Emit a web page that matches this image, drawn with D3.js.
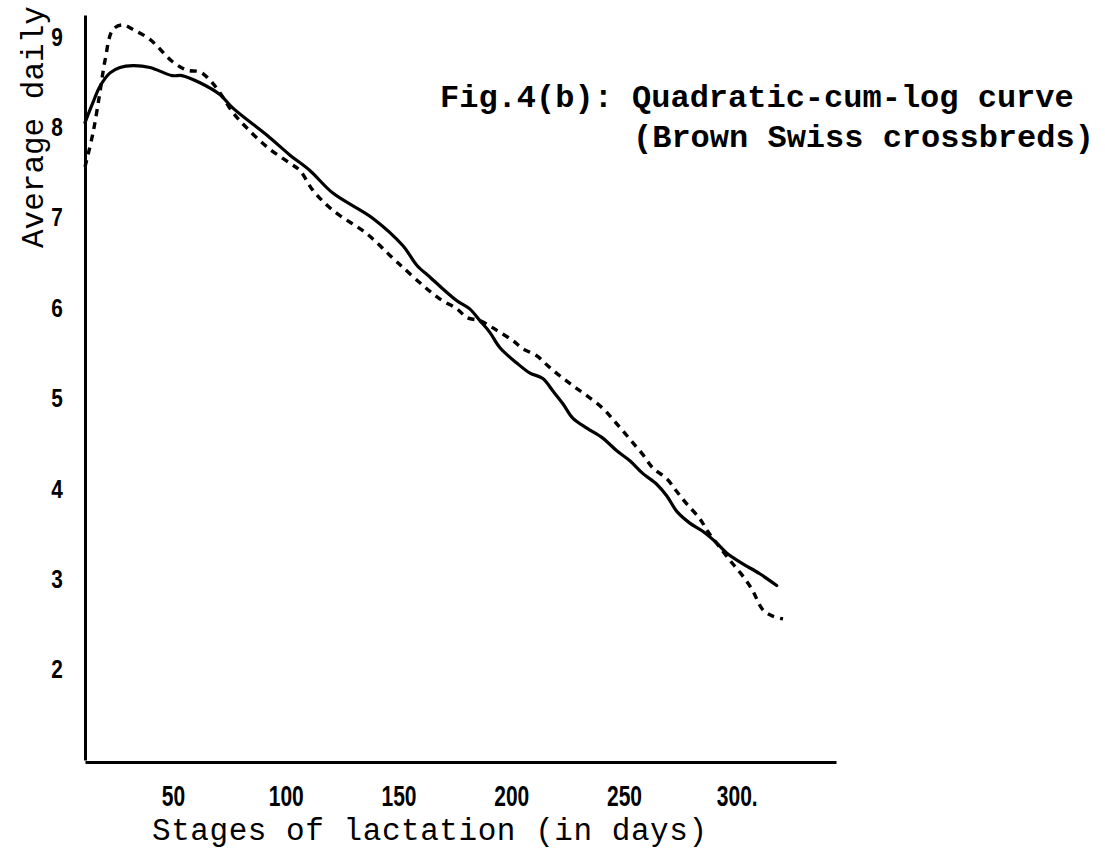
<!DOCTYPE html>
<html>
<head>
<meta charset="utf-8">
<script src="https://cdn.jsdelivr.net/npm/d3@7"></script>
<style>
  body { margin: 0; background: #fff; }
  svg { display: block; }
</style>
</head>
<body>
<div id="chart"></div>
<script>
// Values (days, kg)
const solidDays = [11, 14.5, 17.6, 22.1, 26.5, 32.3, 39.8, 49.6, 54, 62, 70.8, 76.6, 91.7, 101.9, 110.7, 120.9, 138.7, 151.9, 158.2, 164, 169.7, 175.9, 181.6, 186.1, 190.5, 195, 202.5, 208.3, 214, 218.5, 222.9, 227.3, 233.5, 240.6, 246.8, 252.6, 258.3, 264.5, 269, 273.4, 279.2, 284.9, 291.1, 295.5, 302.7, 310.2, 317.7];
const solidYield = [8.05, 8.27, 8.45, 8.6, 8.66, 8.68, 8.66, 8.57, 8.57, 8.49, 8.36, 8.21, 7.91, 7.69, 7.52, 7.27, 6.99, 6.69, 6.47, 6.34, 6.21, 6.08, 5.99, 5.86, 5.73, 5.56, 5.39, 5.28, 5.22, 5.08, 4.94, 4.78, 4.67, 4.56, 4.42, 4.31, 4.17, 4.05, 3.92, 3.75, 3.62, 3.53, 3.4, 3.29, 3.17, 3.06, 2.93];

const dashedDays = [11, 14.5, 17.6, 19.9, 23.4, 27.8, 32.3, 39.8, 50, 56.2, 62, 66.4, 70.8, 76.6, 82.8, 91.7, 101.9, 106.3, 112.1, 120.9, 136, 147.5, 151.9, 160.8, 168.3, 175.9, 180.7, 186.1, 190.5, 195, 200.7, 205.1, 211.4, 216.2, 221.5, 227.3, 233.5, 240.6, 245, 249.5, 253.9, 258.3, 262.8, 269, 273.4, 277.9, 283.6, 287.1, 293.8, 298.2, 302.2, 306.7, 311.6, 316.1, 320.5];
const dashedYield = [7.56, 7.93, 8.38, 8.74, 9.08, 9.13, 9.08, 8.97, 8.72, 8.63, 8.61, 8.52, 8.38, 8.16, 7.99, 7.78, 7.6, 7.52, 7.3, 7.08, 6.82, 6.55, 6.45, 6.25, 6.1, 5.99, 5.89, 5.86, 5.8, 5.73, 5.64, 5.55, 5.47, 5.36, 5.25, 5.14, 5.03, 4.89, 4.77, 4.64, 4.51, 4.38, 4.23, 4.11, 3.97, 3.83, 3.67, 3.53, 3.31, 3.17, 3.05, 2.89, 2.66, 2.59, 2.56];

// Tick labels
const yTicks = [2, 3, 4, 5, 6, 7, 8, 9];
const xTicks = [50, 100, 150, 200, 250, 300];
const xTickLabels = ["50", "100", "150", "200", "250", "300."];

// The svg
const svg = d3.select("#chart")
  .append("svg")
  .attr("width", 1105)
  .attr("height", 854);

// Scales (axes start where the drawing starts, not at zero)
const x = d3.scaleLinear().domain([11, 344]).range([85, 836]);
const y = d3.scaleLinear().domain([1, 9.24]).range([760, 15]);

const tickFont = "'Liberation Sans', 'DejaVu Sans', sans-serif";
const typeFont = "'Liberation Mono', 'DejaVu Sans Mono', monospace";

// Y axis
const yAxis = svg.append("g")
  .attr("transform", "translate(85,0)")
  .call(d3.axisLeft(y).tickValues(yTicks).tickSize(0).tickSizeOuter(0).tickPadding(22));

// X axis
const xAxis = svg.append("g")
  .attr("transform", "translate(0,762)")
  .call(d3.axisBottom(x).tickValues(xTicks).tickSize(0).tickSizeOuter(0).tickPadding(23)
    .tickFormat(function (d, i) { return xTickLabels[i]; }));

[yAxis, xAxis].forEach(function (g) {
  g.select(".domain").attr("stroke", "#000").attr("stroke-width", 3);
  g.selectAll("text")
    .attr("fill", "#000")
    .style("font-family", tickFont)
    .style("font-weight", "bold");
});

// narrow typewriter digits: squeeze horizontally
yAxis.selectAll("text")
  .style("font-size", "26px")
  .attr("text-anchor", "middle")
  .attr("x", -35)
  .attr("transform", "scale(0.8,1)");
xAxis.selectAll("text")
  .style("font-size", "30px")
  .attr("transform", "scale(0.7,1)");

// Curves
const line = function (days, vals) {
  return d3.line()
    .x(function (d) { return x(days[d]); })
    .y(function (d) { return y(vals[d]); })
    .curve(d3.curveCatmullRom.alpha(0.5))(d3.range(days.length));
};

svg.append("path")
  .attr("d", line(solidDays, solidYield))
  .attr("fill", "none")
  .attr("stroke", "#000")
  .attr("stroke-width", 3.2)
  .attr("stroke-linecap", "round");

svg.append("path")
  .attr("d", line(dashedDays, dashedYield))
  .attr("fill", "none")
  .attr("stroke", "#000")
  .attr("stroke-width", 3.4)
  .attr("stroke-dasharray", "7,6");

// Axis titles
svg.append("text")
  .attr("x", 152)
  .attr("y", 840)
  .style("font-family", typeFont)
  .style("font-size", "31px")
  .attr("textLength", 555)
  .text("Stages of lactation (in days)");

svg.append("text")
  .attr("transform", "translate(43,248) rotate(-90)")
  .style("font-family", typeFont)
  .style("font-size", "31px")
  .text("Average daily");

// Figure caption
svg.append("text")
  .attr("x", 440)
  .attr("y", 107)
  .style("font-family", typeFont)
  .style("font-size", "32px")
  .style("font-weight", "bold")
  .text("Fig.4(b): Quadratic-cum-log curve");

svg.append("text")
  .attr("x", 633)
  .attr("y", 147)
  .style("font-family", typeFont)
  .style("font-size", "32px")
  .style("font-weight", "bold")
  .text("(Brown Swiss crossbreds)");
</script>
</body>
</html>
